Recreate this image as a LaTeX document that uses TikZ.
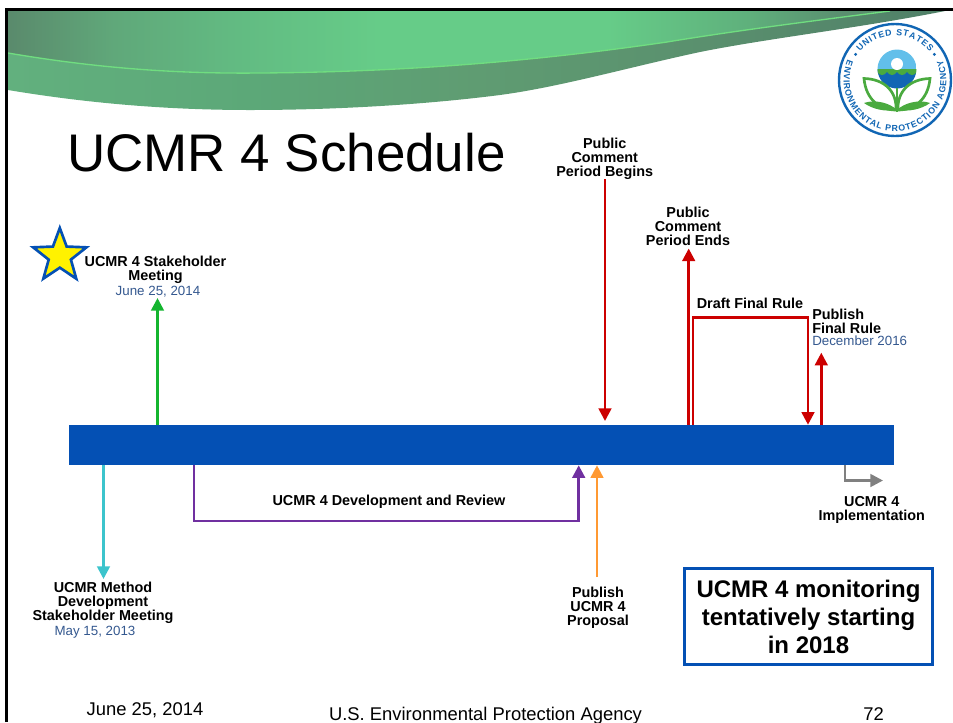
\documentclass[tikz,border=0pt]{standalone}
\usepackage{fontspec}
\setmainfont{Liberation Sans}
\usetikzlibrary{shapes.geometric,arrows.meta,decorations.text}
\definecolor{barblue}{HTML}{0450B4}
\definecolor{dateblue}{HTML}{34588F}
\definecolor{linkgreen}{HTML}{14B52F}
\definecolor{linkcyan}{HTML}{3CC4CC}
\definecolor{linkpurple}{HTML}{7030A0}
\definecolor{linkorange}{HTML}{FF9933}
\definecolor{linkred}{HTML}{CC0000}
\definecolor{linkgray}{HTML}{808080}
\definecolor{sealblue}{HTML}{1166B4}
\definecolor{sealsky}{HTML}{62BFEA}
\definecolor{sealgreen}{HTML}{4AAA3F}
\definecolor{bannerline}{HTML}{70DD80}
\definecolor{bandA}{HTML}{5A8A6C}
\definecolor{bandB}{HTML}{60A87A}
\definecolor{bandC}{HTML}{62BB82}
\definecolor{bandD}{HTML}{66CC88}
\definecolor{bandE}{HTML}{5FB07C}
\definecolor{bandF}{HTML}{5A9070}
\definecolor{lowA}{HTML}{62B07E}
\definecolor{lowB}{HTML}{5CA878}
\definecolor{lowC}{HTML}{5F9C72}
\definecolor{lowD}{HTML}{5A906E}
\definecolor{lowE}{HTML}{508068}
\pgfdeclarehorizontalshading{bannertop}{100bp}{color(0bp)=(bandA);color(25bp)=(bandA);color(31bp)=(bandB);color(38bp)=(bandC);color(46bp)=(bandD);color(59bp)=(bandD);color(67bp)=(bandE);color(72bp)=(bandF);color(75bp)=(bandA);color(100bp)=(bandA)}
\pgfdeclarehorizontalshading{bannerlow}{100bp}{color(0bp)=(lowA);color(25bp)=(lowA);color(38bp)=(lowB);color(50bp)=(lowC);color(62bp)=(lowD);color(75bp)=(lowE);color(100bp)=(lowE)}
\tikzset{
  tasklabel/.style={align=center,inner sep=0pt,anchor=north,text=black,font=\fontsize{10.8}{10.5}\selectfont\bfseries},
  oneline/.style={inner sep=0pt,anchor=base,text=black,font=\fontsize{10.8}{10.5}\selectfont\bfseries},
  datelabel/.style={inner sep=0pt,anchor=base,text=dateblue,font=\fontsize{10}{12}\selectfont},
  footlabel/.style={inner sep=0pt,anchor=base,text=black,font=\fontsize{13.8}{16}\selectfont},
  link/.style={draw,line width=2pt,-{Triangle[length=9.5pt,width=9.5pt]}}
}
\begin{document}
\begin{tikzpicture}[x=0.75pt,y=-0.75pt]
\useasboundingbox (0,0) rectangle (953,722);
\shade[shading=bannertop] (8,11) -- (890,11) .. controls (820,20) and (740,30) .. (667,42) .. controls (530,62) and (400,72) .. (260,73) .. controls (170,74) and (90,67) .. (8,53) -- cycle;
\shade[shading=bannerlow] (8,53) .. controls (90,67) and (170,74) .. (260,73) .. controls (400,72) and (530,62) .. (667,42) .. controls (740,30) and (820,20) .. (890,11) -- (945,11) .. controls (860,28) and (770,38) .. (700,52) .. controls (630,67) and (560,87) .. (500,95) .. controls (430,104) and (340,110) .. (250,110) .. controls (160,110) and (80,102) .. (8,90) -- cycle;
\draw[bannerline,line width=1pt] (8,53) .. controls (90,67) and (170,74) .. (260,73) .. controls (400,72) and (530,62) .. (667,42) .. controls (740,30) and (820,20) .. (890,11);
\draw[black,line width=2.25pt] (6.5,722) -- (6.5,9.5) -- (953,9.5);

\fill[white] (895,80) circle (57);
\draw[sealblue,line width=1.8pt] (895,80) circle (56);
\path[decorate,decoration={text along path,text align={fit to path},text color=sealblue,text={|\fontsize{6.6}{8}\selectfont\bfseries|UNITED STATES}}] (895,80) ++(141:33.5pt) arc[start angle=141,end angle=39,radius=33.5pt];
\path[decorate,decoration={text along path,text align={fit to path},text color=sealblue,text={|\fontsize{6.6}{8}\selectfont\bfseries|ENVIRONMENTAL PROTECTION AGENCY}}] (895,80) ++(157:38.5pt) arc[start angle=157,end angle=383,radius=38.5pt];
\fill[sealblue] (895,80) ++(147:35.25pt) circle (1.6);
\fill[sealblue] (895,80) ++(33:35.25pt) circle (1.6);
\begin{scope}
\clip (897,69) circle (19.5);
\fill[sealsky] (877,49) rectangle (917,69);
\fill[sealblue] (877,69) rectangle (917,89);
\fill[sealgreen] (877,69) rectangle (917,72) (877,72) .. controls (880,76) and (884,76) .. (887,72) .. controls (890,76) and (894,76) .. (897,72) .. controls (900,76) and (904,76) .. (907,72) .. controls (910,76) and (914,76) .. (917,72) -- cycle;
\end{scope}
\fill[white] (897,64) circle (6);
\fill[sealgreen] (864,103) .. controls (875,99) and (890,103) .. (897,110) .. controls (885,112) and (872,109) .. (864,103) -- cycle;
\fill[sealgreen] (930,103) .. controls (919,99) and (904,103) .. (897,110) .. controls (909,112) and (922,109) .. (930,103) -- cycle;
\draw[sealgreen,line width=2pt] (864,78.5) .. controls (885,79) and (897,92) .. (896,110) .. controls (880,110) and (866,100) .. (864,78.5) -- cycle;
\draw[sealgreen,line width=2pt] (930,78.5) .. controls (909,79) and (897,92) .. (898,110) .. controls (914,110) and (928,100) .. (930,78.5) -- cycle;
\draw[sealgreen,line width=1.5pt] (897,88) -- (897,112);

\node[inner sep=0pt,anchor=base west,font=\fontsize{39.7}{48}\selectfont] (title) at (67,171) {UCMR 4 Schedule};
\node[shape=rectangle,fill=barblue,inner sep=0pt,minimum width=618.75pt,minimum height=30pt] (bar) at (481.5,445) {};
\node[shape=star,star points=5,star point ratio=2.4,draw=barblue,fill=yellow,line width=2pt,inner sep=0pt,minimum size=42pt] (star) at (59.8,256) {};

\node[tasklabel] (stake) at (155.5,255.5) {UCMR 4 Stakeholder\\Meeting};
\node[datelabel] (stakedate) at (158,295) {June 25, 2014};
\node[tasklabel] (method) at (103,581.5) {UCMR Method\\Development\\Stakeholder Meeting};
\node[datelabel] (methoddate) at (95,635) {May 15, 2013};
\node[oneline] (develop) at (389,505) {UCMR 4 Development and Review};
\node[tasklabel] (proposal) at (598,586.5) {Publish\\UCMR 4\\Proposal};
\node[tasklabel] (begins) at (604.7,137.5) {Public\\Comment\\Period Begins};
\node[tasklabel] (ends) at (688,206.5) {Public\\Comment\\Period Ends};
\node[oneline] (draft) at (750,308) {Draft Final Rule};
\node[tasklabel,align=left,anchor=north west] (final) at (812,309) {Publish\\Final Rule};
\node[datelabel,anchor=base west] (finaldate) at (812,345.7) {December 2016};
\node[tasklabel] (implement) at (871.7,496.5) {UCMR 4\\Implementation};
\node[shape=rectangle,draw=barblue,line width=1.9pt,minimum width=186pt,minimum height=72pt,inner sep=0pt,align=center,font=\fontsize{18}{21}\selectfont\bfseries] (monitor) at (808.5,616.5) {UCMR 4 monitoring\\tentatively starting\\in 2018};

\node[footlabel] (footdate) at (145,715) {June 25, 2014};
\node[footlabel] (footagency) at (485.5,720) {U.S. Environmental Protection Agency};
\node[footlabel] (footpage) at (873.5,720) {72};

\coordinate (staketip) at (157.5,298);
\coordinate (methodtip) at (103.5,579);
\coordinate (developa) at (194,521);
\coordinate (developb) at (578.7,521);
\coordinate (proposalend) at (597,577);
\coordinate (beginsend) at (605,179);
\coordinate (beginstip) at (605,421);
\coordinate (endstip) at (688.7,248.5);
\coordinate (drafta) at (693,317.5);
\coordinate (draftb) at (808,317.5);
\coordinate (finaltip) at (821.3,352.7);
\coordinate (implementa) at (845,480.5);
\coordinate (implementb) at (883,480.5);

\draw [link,draw=linkgreen] (bar.north -| staketip) -- (staketip);
\draw [link,draw=linkcyan] (bar.south -| methodtip) -- (methodtip);
\draw [link,draw=linkpurple] (bar.south -| developa) -- (developa) -- (developb) -- (bar.south -| developb);
\draw [link,draw=linkorange] (proposalend) -- (bar.south -| proposalend);
\draw [link,draw=linkred] (beginsend) -- (beginstip);
\draw [link,draw=linkred] (bar.north -| endstip) -- (endstip);
\draw [link,draw=linkred] (bar.north -| drafta) -- (drafta) -- (draftb) -- (bar.north -| draftb);
\draw [link,draw=linkred] (bar.north -| finaltip) -- (finaltip);
\draw [link,draw=linkgray] (bar.south -| implementa) -- (implementa) -- (implementb);
\end{tikzpicture}
\end{document}
